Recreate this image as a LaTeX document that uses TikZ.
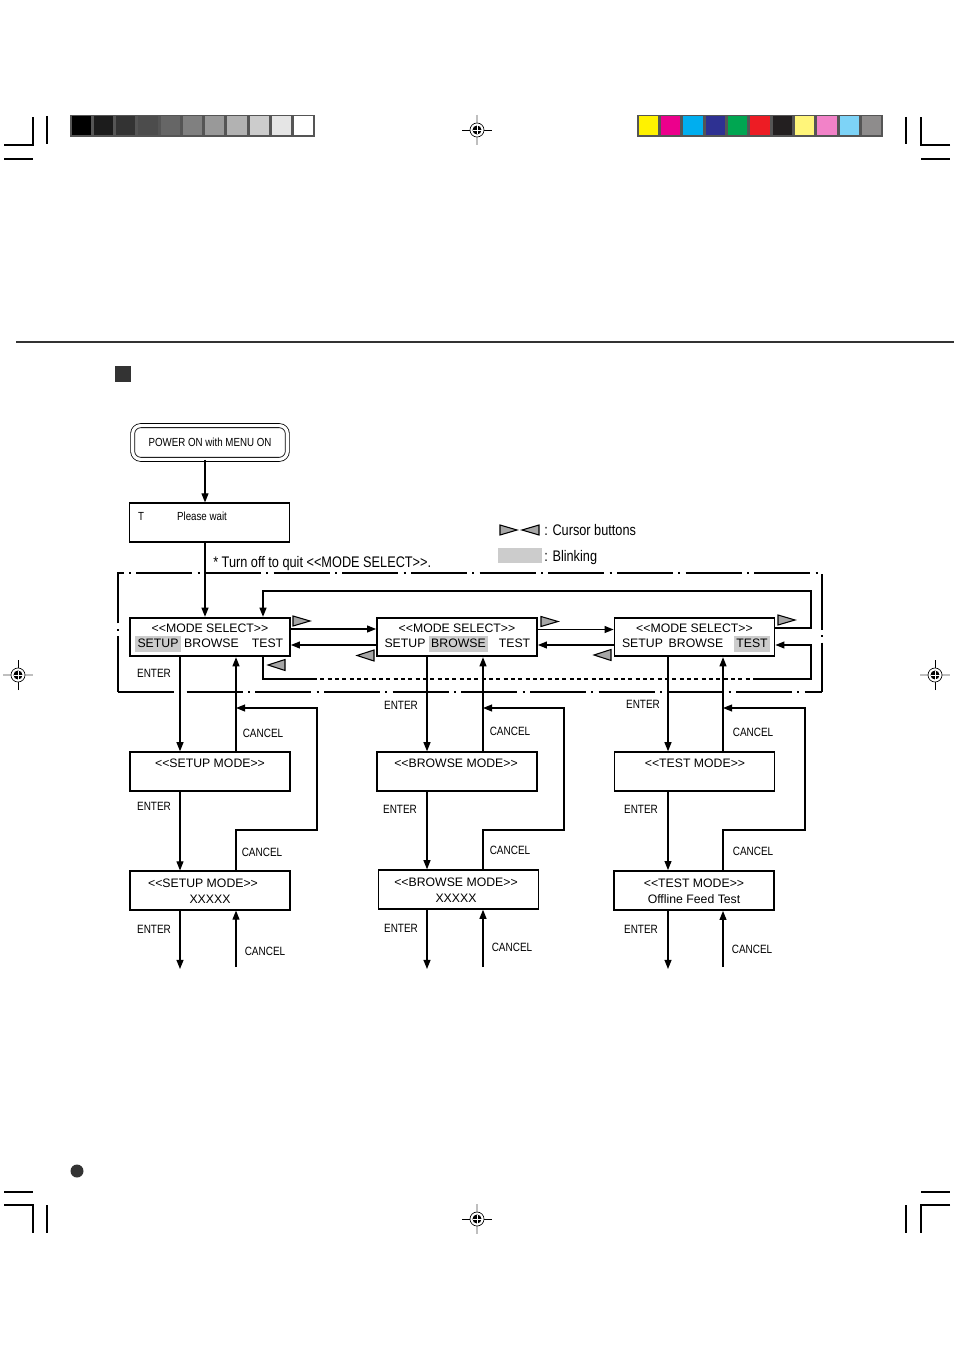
\documentclass[tikz,border=0pt]{standalone}
\usepackage{fontspec}
\usepackage{tikz}
\usetikzlibrary{arrows.meta,calc}
\setmainfont{Liberation Sans}
\newfontfamily\lcdfont{Liberation Sans}
\newfontfamily\narrowfont[FakeStretch=0.83]{Liberation Sans}

\definecolor{blink}{HTML}{CCCCCC}
\definecolor{cursorgray}{HTML}{A6A6A6}
\definecolor{barframe}{HTML}{555555}
\definecolor{rulegray}{HTML}{333333}

\tikzset{
  lcd/.style={draw, line width=1.3pt, minimum width=120pt, minimum height=29pt, inner sep=0pt},
  lcdtext/.style={font=\lcdfont\fontsize{9.2}{11}\selectfont, inner sep=0pt},
  word/.style={font=\lcdfont\fontsize{9.2}{11}\selectfont, text height=7pt, text depth=1.8pt,
    inner xsep=2pt, inner ysep=1.6pt},
  key/.style={font=\narrowfont\fontsize{9}{11}\selectfont, inner sep=0pt},
  note/.style={font=\narrowfont\fontsize{11.5}{13}\selectfont, inner sep=0pt, anchor=west,
    text height=8.2pt, text depth=0pt},
  power/.style={draw, double, double distance=2.4pt, line width=0.6pt, rounded corners=6pt,
    minimum width=116pt, minimum height=25.3pt, inner sep=0pt,
    font=\narrowfont\fontsize{8.8}{10}\selectfont},
  flow/.style={line width=0.9pt, -{Triangle[length=6.8pt,width=5.2pt]}},
  wire/.style={line width=0.9pt},
  cursor/.style={draw, fill=cursorgray, line width=0.8pt, line join=miter},
  frame/.style={line width=0.8pt, dash pattern=on 42pt off 4pt on 1.5pt off 4pt},
  crop/.style={line width=0.8pt},
  target/.pic={
    \draw[black!25, line width=0.8pt] (0,-15) -- (0,15);
    \draw[line width=0.6pt] (-15,0) -- (15,0);
    \draw[line width=0.5pt, fill=white] (0,0) circle[radius=7];
    \fill (0,0) circle[radius=4.5];
    \draw[white, line width=0.7pt] (-4.5,0) -- (4.5,0) (0,-4.5) -- (0,4.5);
  }
}

\begin{document}
\begin{tikzpicture}[x=0.75pt, y=-0.75pt]
  \useasboundingbox[fill=white] (0,0) rectangle (954,1351);

  % crop marks
  \draw[crop] (4,145) -- (33,145) -- (33,117) (47,116) -- (47,144) (4,159) -- (33,159);
  \draw[crop] (950,145) -- (921,145) -- (921,117) (906,117) -- (906,144) (921,159) -- (950,159);
  \draw[crop] (4,1192) -- (33,1192) (4,1205) -- (33,1205) -- (33,1233) (47,1205) -- (47,1233);
  \draw[crop] (921,1192) -- (950,1192) (950,1205) -- (921,1205) -- (921,1233) (906,1205) -- (906,1233);

  % registration targets
  \pic at (477,130) {target};
  \pic at (477,1219) {target};
  \pic[rotate=90] at (18,675) {target};
  \pic[rotate=90] at (935,675) {target};

  % gray and colour bars
  \fill[barframe] (70,115) rectangle (315,137);
  \foreach \g [count=\k from 0] in {100,89,80,70,60,50,40,30,20,10,0}
    \fill[black!\g] ({71.5+\k*22.27},116.5) rectangle ({70+(\k+1)*22.27-1.5},135.5);
  \fill[barframe] (637,115) rectangle (883,137);
  \foreach \c [count=\k from 0] in {FFF200,EC008C,00AEEF,2E3192,00A651,ED1C24,231F20,FFF57A,F282C8,7DD3F7,8E8C8C} {
    \definecolor{patch}{HTML}{\c}
    \fill[patch] ({638.5+\k*22.36},116.5) rectangle ({637+(\k+1)*22.36-1.5},135.5);
  }

  % page rule, heading square, page dot
  \draw[rulegray, line width=2.2pt] (16,342) -- (954,342);
  \fill[rulegray] (115,366) rectangle (131,382);
  \fill[rulegray] (77,1171) circle[radius=6.5];

  % start
  \node[power] (power) at (210,442.5) {POWER ON with MENU ON};
  \node[lcd, line width=1.1pt] (wait) at (209.5,522.5) {};
  \node[key, font=\narrowfont\fontsize{8.8}{10}\selectfont] (waitT) at (141,516) {T};
  \node[key, font=\narrowfont\fontsize{8.8}{10}\selectfont] (waitmsg) at (202,516) {Please wait};
  \draw[flow] (power.south -| 205,0) -- (wait.north -| 205,0);

  % legend
  \draw[cursor] (500,525) -- (517,530) -- (500,535) -- cycle;
  \draw[cursor] (539,525) -- (522,530) -- (539,535) -- cycle;
  \node[note] (legcursor) at (544,530) {: Cursor buttons};
  \fill[blink] (498,548) rectangle (542,563);
  \node[note] (legblink) at (544,556) {: Blinking};
  \node[note] (quit) at (213,562) {* Turn off to quit <<MODE SELECT>>.};

  % mode select area
  \draw[frame] (118,692) -- (118,573) -- (822,573) -- (822,692);
  \draw[frame, line width=1.6pt] (118,692) -- (822,692);

  \foreach \i/\x/\hl in {1/210/1, 2/457/2, 3/694.5/3} {
    \node[lcd] (sel\i) at (\x,637) {};
    \node[lcdtext] (sel\i t) at ($(sel\i.center)+(0,-9)$) {<<MODE SELECT>>};
    \foreach \w/\dx [count=\j] in {SETUP/-52, BROWSE/1.5, TEST/57.5} {
      \pgfmathtruncatemacro\shade{\j==\hl ? 100 : 0}
      \node[word, fill=blink!\shade!white] (word\i\j) at ($(sel\i.center)+(\dx,7)$) {\w};
    }
  }
  \draw[flow] (wait.south -| 205,0) -- (sel1.north -| 205,0);

  \draw[flow] (sel1.east |- 0,629) -- (sel2.west |- 0,629);
  \draw[flow] (sel2.west |- 0,645) -- (sel1.east |- 0,645);
  \draw[flow] (sel2.east |- 0,629.5) -- (sel3.west |- 0,629.5);
  \draw[flow] (sel3.west |- 0,645) -- (sel2.east |- 0,645);
  \draw[flow] (sel3.east |- 0,628) -| (811,591) -| (sel1.north -| 263,0);

  \coordinate (dashA) at (313,679);
  \coordinate (dashB) at (755,679);
  \draw[wire] (sel1.south -| 263,0) |- (dashA);
  \draw[wire, dash pattern=on 3pt off 2.5pt] (dashA) -- (dashB);
  \draw[flow] (dashB) -| (811,645) -- (sel3.east |- 0,645);

  % cursor buttons
  \foreach \x/\y in {293/621, 541/621.5, 778/620}
    \draw[cursor] (\x,\y-5) -- (\x+17,\y) -- (\x,\y+5) -- cycle;
  \foreach \x/\y in {374/655.5, 611/655, 285/665}
    \draw[cursor] (\x,\y-5.5) -- (\x-17,\y) -- (\x,\y+5.5) -- cycle;

  % modes
  \node[lcd] (menu1) at (210,771.5) {};
  \node[lcdtext] (menu1t) at (210,763) {<<SETUP MODE>>};
  \node[lcd] (menu2) at (457,771.5) {};
  \node[lcdtext] (menu2t) at (456,763) {<<BROWSE MODE>>};
  \node[lcd] (menu3) at (694.5,771.5) {};
  \node[lcdtext] (menu3t) at (695,763) {<<TEST MODE>>};

  \node[lcd, line width=1.1pt] (item1) at (210,890.5) {};
  \node[lcdtext] (item1t) at (203,883) {<<SETUP MODE>>};
  \node[lcdtext] (item1s) at (210,899) {XXXXX};
  \node[lcd] (item2) at (458.5,889.5) {};
  \node[lcdtext] (item2t) at (456,882) {<<BROWSE MODE>>};
  \node[lcdtext] (item2s) at (456,898) {XXXXX};
  \node[lcd, line width=1.6pt] (item3) at (694,890.5) {};
  \node[lcdtext] (item3t) at (694,883) {<<TEST MODE>>};
  \node[lcdtext] (item3s) at (694,899) {Offline Feed Test};

  \foreach \i/\e/\k/\r in {1/180/236/317, 2/427/483/564, 3/668/723/805} {
    \coordinate (back\i) at (\k,708);
    \coordinate (out\i) at (\e,969);
    \coordinate (in\i) at (\k,967);
    \draw[flow] (sel\i.south -| \e,0) -- (menu\i.north -| \e,0);
    \draw[flow] (menu\i.north -| \k,0) -- (sel\i.south -| \k,0);
    \draw[flow] (item\i.north -| \k,0) |- (\r,830) |- (back\i);
    \draw[flow] (menu\i.south -| \e,0) -- (item\i.north -| \e,0);
    \draw[flow] (item\i.south -| \e,0) -- (out\i);
    \draw[flow] (in\i) -- (item\i.south -| \k,0);
  }

  \foreach \t/\x/\y [count=\n] in {ENTER/154/673, CANCEL/263/733, ENTER/154/806, CANCEL/262/852,
      ENTER/154/929, CANCEL/265/951, ENTER/401/705, CANCEL/510/731, ENTER/400/809, CANCEL/510/850,
      ENTER/401/928, CANCEL/512/947, ENTER/643/704, CANCEL/753/732, ENTER/641/809, CANCEL/753/851,
      ENTER/641/929, CANCEL/752/949}
    \node[key] (key\n) at (\x,\y) {\t};
\end{tikzpicture}
\end{document}
